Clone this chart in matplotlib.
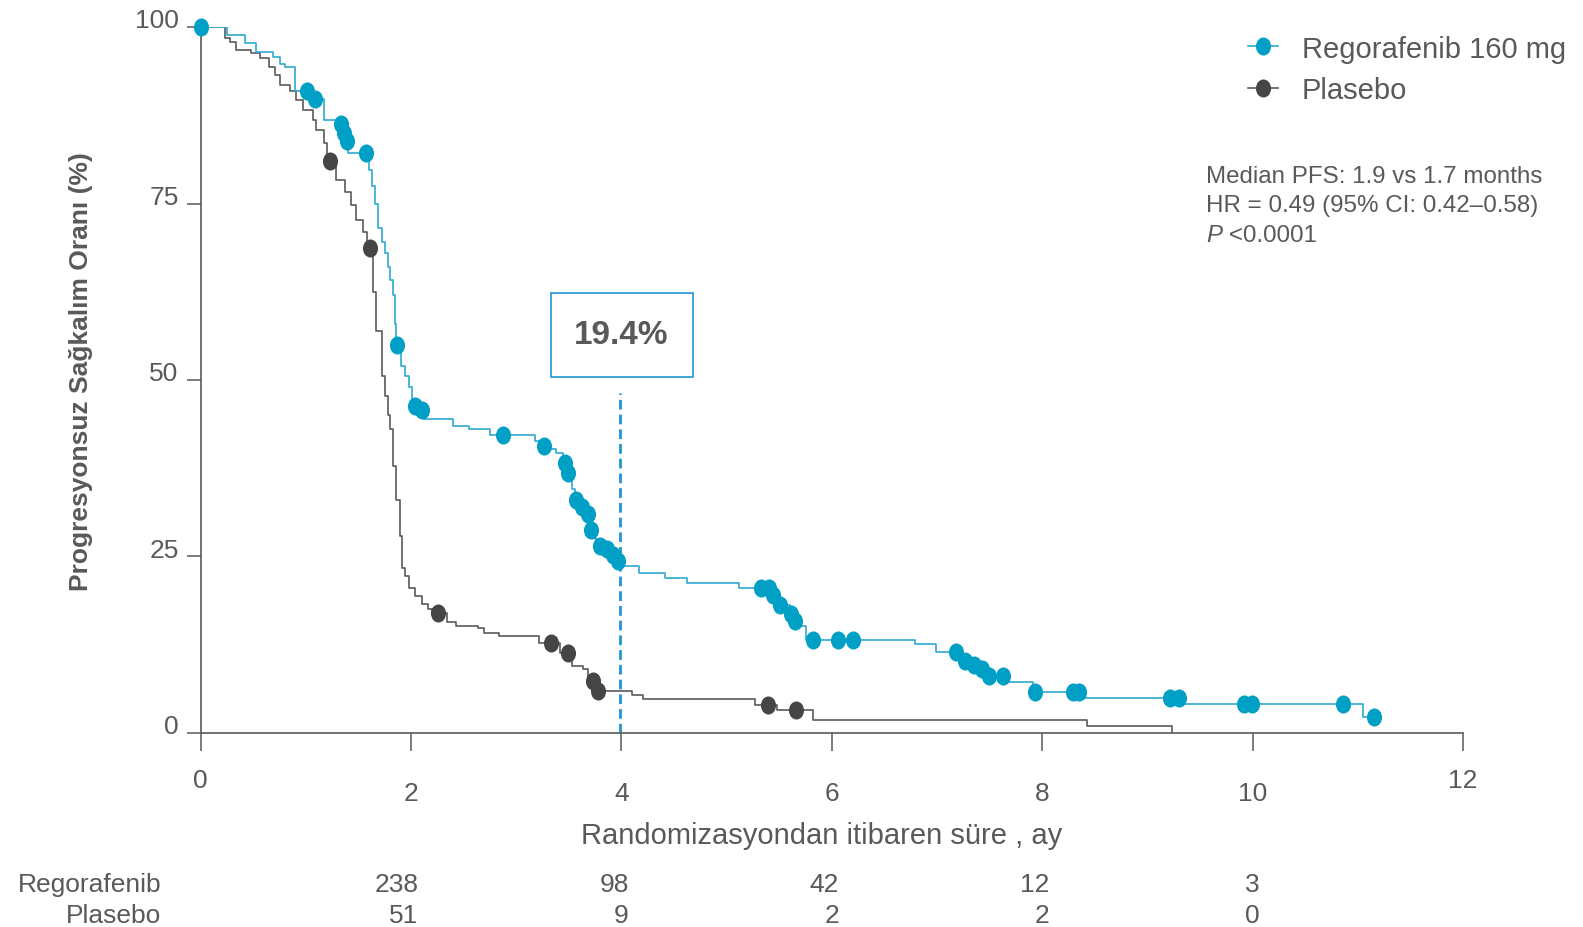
import matplotlib.pyplot as plt
from matplotlib.lines import Line2D
from matplotlib.markers import MarkerStyle
from matplotlib.patches import Rectangle
from matplotlib.transforms import Affine2D, blended_transform_factory

plt.rcParams['font.family'] = ['Liberation Sans', 'DejaVu Sans']

# Kaplan-Meier steps: time in months, survival (%) after each drop
rego_t = [0, 0.25, 0.42, 0.53, 0.69, 0.75, 0.80, 0.90, 1.04, 1.17, 1.32, 1.35, 1.37,
          1.40, 1.60, 1.63, 1.66, 1.69, 1.72, 1.75, 1.78, 1.80, 1.83, 1.85, 1.86,
          1.90, 1.94, 1.98, 2.01, 2.03, 2.08, 2.12, 2.40, 2.55, 2.75, 3.18, 3.24,
          3.30, 3.38, 3.44, 3.48, 3.53, 3.56, 3.61, 3.67, 3.70, 3.75, 3.79, 3.85,
          3.90, 3.96, 4.00, 4.17, 4.41, 4.62, 5.12, 5.43, 5.50, 5.60, 5.64, 5.66,
          5.75, 6.79, 6.99, 7.24, 7.33, 7.41, 7.47, 7.65, 7.91, 8.37, 9.33, 11.05, 11.15]
rego_s = [100, 98.8, 97.7, 96.5, 95.8, 94.8, 94.4, 91.0, 89.8, 86.8, 86.3, 85.0, 83.8,
          82.2, 79.8, 77.5, 75.0, 71.5, 69.5, 68.0, 66.0, 64.2, 62.0, 58.0, 55.0,
          52.0, 50.5, 49.0, 47.0, 46.3, 45.8, 44.5, 43.5, 43.0, 42.2, 41.4, 40.7,
          40.2, 39.6, 38.3, 36.8, 34.5, 33.0, 32.0, 31.0, 28.8, 27.5, 26.5, 26.0,
          25.2, 24.4, 23.7, 22.7, 21.9, 21.2, 20.6, 19.5, 18.1, 16.8, 15.8, 15.1,
          13.1, 12.6, 11.4, 10.2, 9.6, 9.0, 8.0, 7.2, 5.8, 4.9, 4.1, 2.2, 2.2]
rego_cens = [0, 1.01, 1.09, 1.33, 1.36, 1.39, 1.57, 1.87, 2.04, 2.10, 2.87, 3.26,
             3.46, 3.49, 3.57, 3.62, 3.68, 3.71, 3.80, 3.86, 3.92, 3.97, 5.33, 5.40,
             5.44, 5.51, 5.61, 5.65, 5.82, 6.06, 6.20, 7.18, 7.27, 7.35, 7.43, 7.49,
             7.63, 7.93, 8.29, 8.35, 9.21, 9.30, 9.92, 9.99, 10.86, 11.15]

plac_t = [0, 0.23, 0.28, 0.34, 0.48, 0.56, 0.65, 0.71, 0.75, 0.85, 0.91, 0.97, 1.07,
          1.10, 1.17, 1.20, 1.29, 1.37, 1.43, 1.48, 1.54, 1.58, 1.64, 1.67, 1.72,
          1.75, 1.78, 1.80, 1.83, 1.86, 1.89, 1.91, 1.94, 1.98, 2.04, 2.10, 2.16,
          2.20, 2.34, 2.43, 2.64, 2.69, 2.84, 3.22, 3.42, 3.53, 3.63, 3.68, 3.76,
          4.10, 4.20, 5.27, 5.48, 5.82, 8.43, 9.23]
plac_s = [100, 98.4, 97.9, 96.7, 96.3, 95.6, 94.4, 93.2, 91.8, 90.9, 89.7, 88.3, 86.8,
          85.4, 83.6, 81.0, 78.4, 76.7, 74.8, 72.7, 70.9, 68.7, 62.5, 57.0, 50.5,
          47.7, 45.0, 43.0, 37.8, 33.0, 27.9, 23.4, 22.3, 20.6, 19.4, 18.2, 17.5,
          17.0, 15.7, 15.2, 14.8, 14.2, 13.8, 12.7, 11.3, 9.5, 9.0, 7.4, 6.0,
          5.4, 4.8, 3.9, 3.2, 1.9, 1.0, 0]
plac_cens = [1.23, 1.61, 2.26, 3.33, 3.49, 3.73, 3.78, 5.39, 5.66]

x_ticks = [0, 2, 4, 6, 8, 10, 12]
y_ticks = [0, 25, 50, 75, 100]
risk_times = [2, 4, 6, 8, 10]
risk_rego = [238, 98, 42, 12, 3]
risk_plac = [51, 9, 2, 2, 0]
landmark = 3.99
landmark_text = '19.4%'

blue_line = '#2fa9d0'
blue_dot = '#009fc5'
gray_line = '#5a5a5a'
gray_dot = '#454545'
dash_blue = '#1f95d3'
txt = '#595959'


def level_at(t, times, surv):
    val = surv[0]
    for ti, si in zip(times, surv):
        if ti <= t:
            val = si
    return val


dot = MarkerStyle('o', transform=Affine2D().scale(0.82, 1.0))

fig = plt.figure(figsize=(15.83, 9.28), dpi=100)
ax = fig.add_axes([0.1268, 0.2091, 0.7974, 0.7607])

ax.plot(plac_t, plac_s, drawstyle='steps-post', color=gray_line, lw=1.2)
ax.plot(plac_cens, [level_at(c, plac_t, plac_s) for c in plac_cens], ls='none',
        marker=dot, ms=12, color=gray_dot, clip_on=False)
ax.plot(rego_t, rego_s, drawstyle='steps-post', color=blue_line, lw=1.2)
ax.plot(rego_cens, [level_at(c, rego_t, rego_s) for c in rego_cens], ls='none',
        marker=dot, ms=12, color=blue_dot, clip_on=False, zorder=4)

# dashed landmark line and boxed difference
ax.plot([landmark, landmark], [0, 48.2], color=dash_blue, lw=2.0, ls=(0, (3.5, 1.8)))
ax.add_patch(Rectangle((3.33, 50.4), 1.35, 11.9, fill=False, ec=dash_blue, lw=1.2))
ax.text(4.0, 56.4, landmark_text, ha='center', va='center', fontsize=24,
        fontweight='bold', color=txt)

ax.set_xlim(0, 12)
ax.set_ylim(0, 100)
for side in ['top', 'right']:
    ax.spines[side].set_visible(False)
for side in ['left', 'bottom']:
    ax.spines[side].set_color(txt)
    ax.spines[side].set_linewidth(1.2)

ax.set_xticks(x_ticks)
ax.set_yticks(y_ticks)
ax.tick_params(axis='x', length=13, width=1.1, color=txt, labelbottom=False)
ax.tick_params(axis='y', length=10, width=1.1, color=txt, labelleft=False)

xlab_tr = blended_transform_factory(ax.transData, ax.transAxes)
for t in x_ticks:
    y = -0.067 if t in (0, 12) else -0.085
    ax.text(t, y, str(t), transform=xlab_tr, ha='center', va='center',
            fontsize=19, color=txt)

ylab_tr = blended_transform_factory(ax.transAxes, ax.transData)
for v in y_ticks:
    ax.annotate(str(v), xy=(0, v), xycoords=ylab_tr, xytext=(-16, 5),
                textcoords='offset points', ha='right', va='center',
                fontsize=19, color=txt)

fig.text(81 / 1583, 1 - 372 / 928, 'Progresyonsuz Sağkalım Oranı (%)', rotation=90,
         ha='center', va='center', fontsize=19, fontweight='bold', color=txt)
fig.text(822 / 1583, 1 - 836 / 928, 'Randomizasyondan itibaren süre , ay',
         ha='center', va='center', fontsize=21, color=txt)

# number at risk
fig.text(161 / 1583, 1 - 885 / 928, 'Regorafenib', ha='right', va='center',
         fontsize=19, color=txt)
fig.text(161 / 1583, 1 - 916 / 928, 'Plasebo', ha='right', va='center',
         fontsize=19, color=txt)
row_tr = blended_transform_factory(ax.transData, fig.transFigure)
for t, a, b in zip(risk_times, risk_rego, risk_plac):
    ax.text(t + 0.07, 1 - 885 / 928, str(a), transform=row_tr, ha='right',
            va='center', fontsize=19, color=txt)
    ax.text(t + 0.07, 1 - 916 / 928, str(b), transform=row_tr, ha='right',
            va='center', fontsize=19, color=txt)

handles = [
    Line2D([], [], color=blue_line, lw=1.2, marker=dot, ms=12, mfc=blue_dot, mec=blue_dot),
    Line2D([], [], color=gray_line, lw=1.2, marker=dot, ms=12, mfc=gray_dot, mec=gray_dot),
]
fig.legend(handles, ['Regorafenib 160 mg', 'Plasebo'], loc='upper left',
           bbox_to_anchor=(1233 / 1583, 1 - 21 / 928), frameon=False, fontsize=21,
           handlelength=1.05, handletextpad=0.8, labelspacing=0.45, borderpad=0,
           labelcolor=txt)

stats_x = 1206 / 1583
fig.text(stats_x, 1 - 177 / 928, 'Median PFS: 1.9 vs 1.7 months', va='center',
         fontsize=17.4, color=txt)
fig.text(stats_x, 1 - 206 / 928, 'HR = 0.49 (95% CI: 0.42–0.58)', va='center',
         fontsize=17.4, color=txt)
p_txt = fig.text(stats_x, 1 - 236 / 928, 'P', va='center', fontsize=17.4,
                 style='italic', color=txt)
ax.annotate(' <0.0001', xy=(1, 0.5), xycoords=p_txt, va='center', ha='left',
            fontsize=17.4, color=txt, annotation_clip=False)

fig.savefig('out.png', dpi=100)
